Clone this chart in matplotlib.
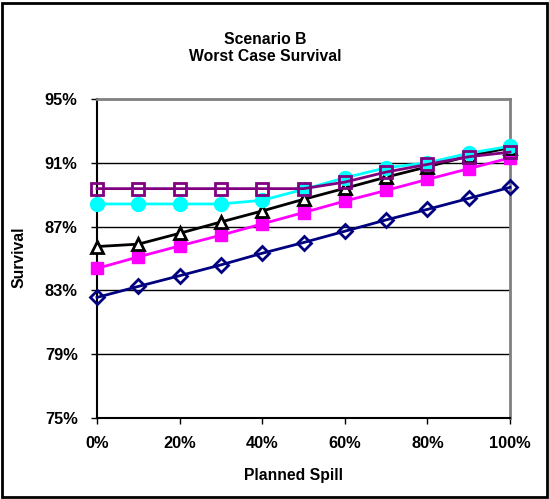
import matplotlib.pyplot as plt
from matplotlib.patches import Rectangle
from matplotlib.ticker import FuncFormatter

plt.rcParams['font.family'] = ['Liberation Sans', 'DejaVu Sans']
plt.rcParams['font.weight'] = 'bold'

# planned spill fraction (0..1) and survival (%) for each series
spill = [0.0, 0.1, 0.2, 0.3, 0.4, 0.5, 0.6, 0.7, 0.8, 0.9, 1.0]
navy_surv = [82.56, 83.25, 83.92, 84.6, 85.33, 86.0, 86.71, 87.42, 88.08, 88.77, 89.46]
magenta_surv = [84.38, 85.1, 85.79, 86.46, 87.17, 87.88, 88.6, 89.27, 89.96, 90.63, 91.31]
black_surv = [85.75, 85.9, 86.58, 87.29, 87.98, 88.71, 89.4, 90.1, 90.75, 91.42, 91.95]
cyan_surv = [88.42, 88.42, 88.42, 88.42, 88.65, 89.33, 90.06, 90.69, 91.0, 91.6, 92.04]
purple_surv = [89.38, 89.38, 89.38, 89.38, 89.38, 89.38, 89.79, 90.42, 90.9, 91.38, 91.67]

y_ticks = [75, 79, 83, 87, 91, 95]
x_ticks = [0.0, 0.2, 0.4, 0.6, 0.8, 1.0]

fs = 11.3

fig = plt.figure(figsize=(5.49, 4.99), dpi=100)
ax = fig.add_axes([0.1767, 0.1623, 0.7523, 0.6393])

ax.plot(spill, navy_surv, color='#000080', lw=2, marker='D', ms=7,
        mfc='none', mec='#000080', mew=2, clip_on=False, zorder=3)
ax.plot(spill, magenta_surv, color='#ff00ff', lw=2, marker='s', ms=9,
        mfc='#ff00ff', mec='#ff00ff', clip_on=False, zorder=3)
ax.plot(spill, black_surv, color='black', lw=2, marker='^', ms=9,
        mfc='white', mec='black', mew=2, clip_on=False, zorder=3)
ax.plot(spill, cyan_surv, color='#00ffff', lw=2, marker='o', ms=10,
        mfc='#00ffff', mec='#00ffff', clip_on=False, zorder=3)
ax.plot(spill, purple_surv, color='#800080', lw=2, marker='s', ms=9,
        mfc='none', mec='#800080', mew=2, clip_on=False, zorder=3)

ax.set_xlim(0, 1)
ax.set_ylim(75, 95)
ax.set_yticks(y_ticks)
ax.set_xticks(x_ticks)
ax.yaxis.set_major_formatter(FuncFormatter(lambda v, p: f'{v:.0f}%'))
ax.xaxis.set_major_formatter(FuncFormatter(lambda v, p: f'{v*100:.0f}%'))
ax.tick_params(axis='both', direction='out', length=4, width=1, labelsize=11.8)
ax.tick_params(axis='y', pad=10)
ax.tick_params(axis='x', pad=9)

for v in y_ticks[1:-1]:
    ax.axhline(v, color='black', lw=1, zorder=1)

ax.spines['left'].set_color('black')
ax.spines['bottom'].set_color('black')
ax.spines['top'].set_color('#808080')
ax.spines['right'].set_color('#808080')
ax.spines['top'].set_linewidth(2)
ax.spines['right'].set_linewidth(2)
ax.spines['left'].set_linewidth(1.5)
ax.spines['bottom'].set_linewidth(1.5)

fig.text(0.5355, 0.048, 'Planned Spill', ha='center', va='center', fontsize=fs, fontweight='bold')
fig.text(0.0346, 0.485, 'Survival', ha='center', va='center', rotation=90,
         fontsize=fs, fontweight='bold')
fig.text(0.483, 0.92, 'Scenario B', ha='center', va='center', fontsize=fs, fontweight='bold')
fig.text(0.483, 0.886, 'Worst Case Survival', ha='center', va='center', fontsize=fs, fontweight='bold')

fig.patches.append(Rectangle((0.004, 0.004), 0.992, 0.99, transform=fig.transFigure,
                             fill=False, edgecolor='black', lw=2))

fig.savefig('out.png', dpi=100)
